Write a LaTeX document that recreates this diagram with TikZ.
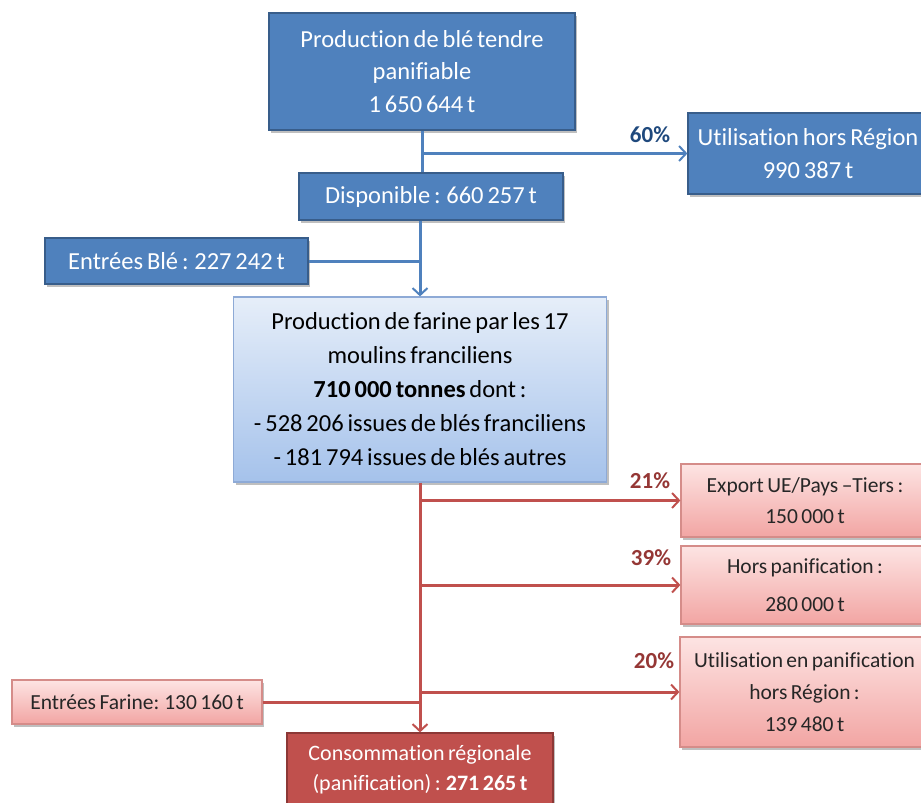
\documentclass[tikz,border=0pt]{standalone}
\usepackage{fontspec}
\setmainfont{Carlito}[Ligatures=NoCommon, WordSpace=0.7]
\usetikzlibrary{arrows.meta,shadows}

\definecolor{blueFill}{HTML}{4F81BD}
\definecolor{blueEdge}{HTML}{385D8A}
\definecolor{blueLabel}{HTML}{1F497D}
\definecolor{paleTop}{HTML}{E6EEF9}
\definecolor{paleBottom}{HTML}{A5C2EB}
\definecolor{paleEdge}{HTML}{8EAAD6}
\definecolor{redFill}{HTML}{C0504D}
\definecolor{redEdge}{HTML}{8C3836}
\definecolor{redLabel}{HTML}{953735}
\definecolor{pinkTop}{HTML}{FDE4E3}
\definecolor{pinkBottom}{HTML}{F2A5A3}
\definecolor{pinkEdge}{HTML}{D58C89}

\begin{document}
\begin{tikzpicture}[x=1pt,y=-1pt,
  box/.style={rectangle, inner sep=0pt, align=center, line width=1.2pt,
    drop shadow={shadow xshift=2pt, shadow yshift=-2.5pt, fill=black, opacity=0.25}},
  bluebox/.style={box, draw=blueEdge, fill=blueFill, text=white},
  palebox/.style={box, draw=paleEdge, top color=paleTop, bottom color=paleBottom, text=black},
  pinkbox/.style={box, draw=pinkEdge, top color=pinkTop, bottom color=pinkBottom, text=black!85},
  redbox/.style={box, draw=redEdge, fill=redFill, text=white},
  tip/.style={-{Straight Barb[length=7pt,width=15pt,line width=2pt]}},
  bline/.style={draw=blueFill, line width=3pt},
  rline/.style={draw=redFill, line width=3pt},
  bpct/.style={font=\fontsize{23}{26}\selectfont\bfseries, text=blueLabel},
  rpct/.style={font=\fontsize{23}{26}\selectfont\bfseries, text=redLabel}]
\useasboundingbox (0,0) rectangle (921,803);

% wheat stage
\node[bluebox, minimum width=306pt, minimum height=117pt,
  font=\fontsize{24.5}{32.5}\selectfont] (prod) at (422,71.5)
  {Production de blé tendre\\panifiable\\1 650 644 t};
\node[bluebox, minimum width=264pt, minimum height=47pt,
  font=\fontsize{24.5}{28}\selectfont] (disp) at (431,196.5)
  {Disponible : 660 257 t};
\node[bluebox, minimum width=240pt, minimum height=81pt,
  font=\fontsize{24.5}{33}\selectfont] (util) at (808,153.5)
  {Utilisation hors Région\\990 387 t};
\node[bluebox, minimum width=263pt, minimum height=46pt,
  font=\fontsize{24.5}{28}\selectfont] (eble) at (176.5,261)
  {Entrées Blé : 227 242 t};

% flour stage
\node[palebox, minimum width=373pt, minimum height=185pt,
  font=\fontsize{24.5}{34}\selectfont] (farine) at (420,389.5)
  {Production de farine par les 17\\moulins franciliens\\\textbf{710 000 tonnes} dont :\\- 528 206 issues de blés franciliens\\- 181 794 issues de blés autres};
\node[pinkbox, minimum width=248pt, minimum height=73pt,
  font=\fontsize{21.5}{31}\selectfont] (export) at (805,500.5)
  {Export UE/Pays –Tiers :\\150 000 t};
\node[pinkbox, minimum width=248pt, minimum height=78pt,
  font=\fontsize{21.5}{38}\selectfont] (horspan) at (805,585)
  {Hors panification :\\280 000 t};
\node[pinkbox, minimum width=249pt, minimum height=110pt,
  font=\fontsize{21.5}{32}\selectfont] (utilpan) at (804.5,692)
  {Utilisation en panification\\hors Région :\\139 480 t};
\node[pinkbox, minimum width=250pt, minimum height=44pt,
  font=\fontsize{21.5}{26}\selectfont] (efarine) at (137,702)
  {Entrées Farine: 130 160 t};
\node[redbox, minimum width=266pt, minimum height=74pt,
  font=\fontsize{22}{30}\selectfont] (conso) at (420,770)
  {Consommation régionale\\(panification) : \textbf{271 265 t}};

% wheat flows
\coordinate (j60) at (prod.south |- util.west);
\draw[bline] (prod.south) -- (prod.south |- disp.north);
\draw[bline, tip] (j60) -- (util.west);
\draw[bline, tip] (disp.south -| farine.north) -- (farine.north);
\draw[bline] (eble.east) -- (eble.east -| farine.north);

% flour flows
\coordinate (j21) at (farine.south |- export.west);
\coordinate (j39) at (farine.south |- horspan.west);
\coordinate (j20) at (farine.south |- utilpan.west);
\draw[rline, tip] (farine.south) -- (conso.north);
\draw[rline, tip] (j21) -- (export.west);
\draw[rline, tip] (j39) -- (horspan.west);
\draw[rline, tip] (j20) -- (utilpan.west);
\draw[rline] (efarine.east) -- (efarine.east -| conso.north);

% shares
\node[bpct] (p60) at (650,135) {60\%};
\node[rpct] (p21) at (650,481) {21\%};
\node[rpct] (p39) at (651,558) {39\%};
\node[rpct] (p20) at (654,661) {20\%};
\end{tikzpicture}
\end{document}
